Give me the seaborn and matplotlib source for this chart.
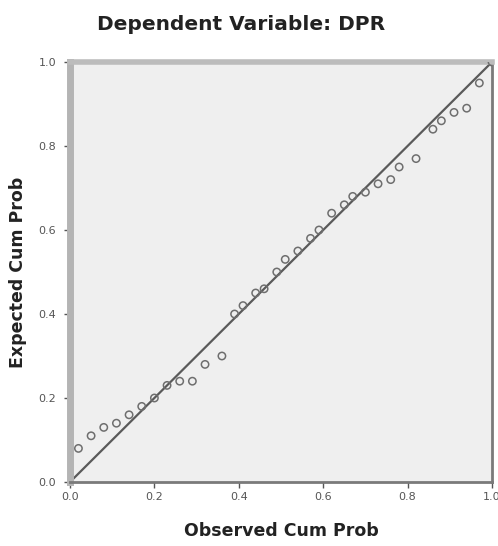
import numpy as np
import pandas as pd
import seaborn as sns
import matplotlib.pyplot as plt

# values
observed = [0.02, 0.05, 0.08, 0.11, 0.14, 0.17, 0.20, 0.23, 0.26, 0.29, 0.32, 0.36,
            0.39, 0.41, 0.44, 0.46, 0.49, 0.51, 0.54, 0.57, 0.59, 0.62, 0.65, 0.67,
            0.70, 0.73, 0.76, 0.78, 0.82, 0.86, 0.88, 0.91, 0.94, 0.97, 1.00]
expected = [0.08, 0.11, 0.13, 0.14, 0.16, 0.18, 0.20, 0.23, 0.24, 0.24, 0.28, 0.30,
            0.40, 0.42, 0.45, 0.46, 0.50, 0.53, 0.55, 0.58, 0.60, 0.64, 0.66, 0.68,
            0.69, 0.71, 0.72, 0.75, 0.77, 0.84, 0.86, 0.88, 0.89, 0.95, 1.00]
diag = [0.0, 1.0]
ticks = [0.0, 0.2, 0.4, 0.6, 0.8, 1.0]
tick_labels = ["0.0", "0.2", "0.4", "0.6", "0.8", "1.0"]

df = pd.DataFrame({"Observed Cum Prob": observed, "Expected Cum Prob": expected})

sns.set_style("white")
plt.rcParams['font.family'] = ['DejaVu Sans']

fig = plt.figure(figsize=(4.98, 5.46), dpi=100)
ax = fig.add_axes([70/498, 1-482/546, 422/498, 420/546])
ax.set_facecolor('#efefef')

sns.lineplot(x=diag, y=diag, color='#5a5a5a', linewidth=1.6, ax=ax, zorder=2)
sns.scatterplot(data=df, x="Observed Cum Prob", y="Expected Cum Prob", ax=ax,
                marker='o', s=28, facecolors='none', edgecolor='#6e6e6e',
                linewidth=1.1, zorder=3)

ax.set_xlim(0, 1)
ax.set_ylim(0, 1)
ax.set_xticks(ticks)
ax.set_xticklabels(tick_labels)
ax.set_yticks(ticks)
ax.set_yticklabels(tick_labels)
ax.tick_params(axis='both', labelsize=8, colors='#555555', length=4, width=1,
               direction='out', bottom=True, left=True)
ax.tick_params(axis='y', pad=6)

ax.spines['left'].set_color('#b4b4b4')
ax.spines['left'].set_linewidth(5)
ax.spines['top'].set_color('#bcbcbc')
ax.spines['top'].set_linewidth(4)
ax.spines['bottom'].set_color('#7a7a7a')
ax.spines['bottom'].set_linewidth(2)
ax.spines['right'].set_color('#7a7a7a')
ax.spines['right'].set_linewidth(2)

ax.set_xlabel("Observed Cum Prob", fontsize=12.5, fontweight='bold', color='#222222', labelpad=14)
ax.set_ylabel("Expected Cum Prob", fontsize=12.5, fontweight='bold', color='#222222', labelpad=8)
fig.text(241/498, 1-24/546, "Dependent Variable: DPR", fontsize=14.5, fontweight='bold',
         color='#222222', ha='center', va='center')

plt.savefig('out.png', dpi=100)
